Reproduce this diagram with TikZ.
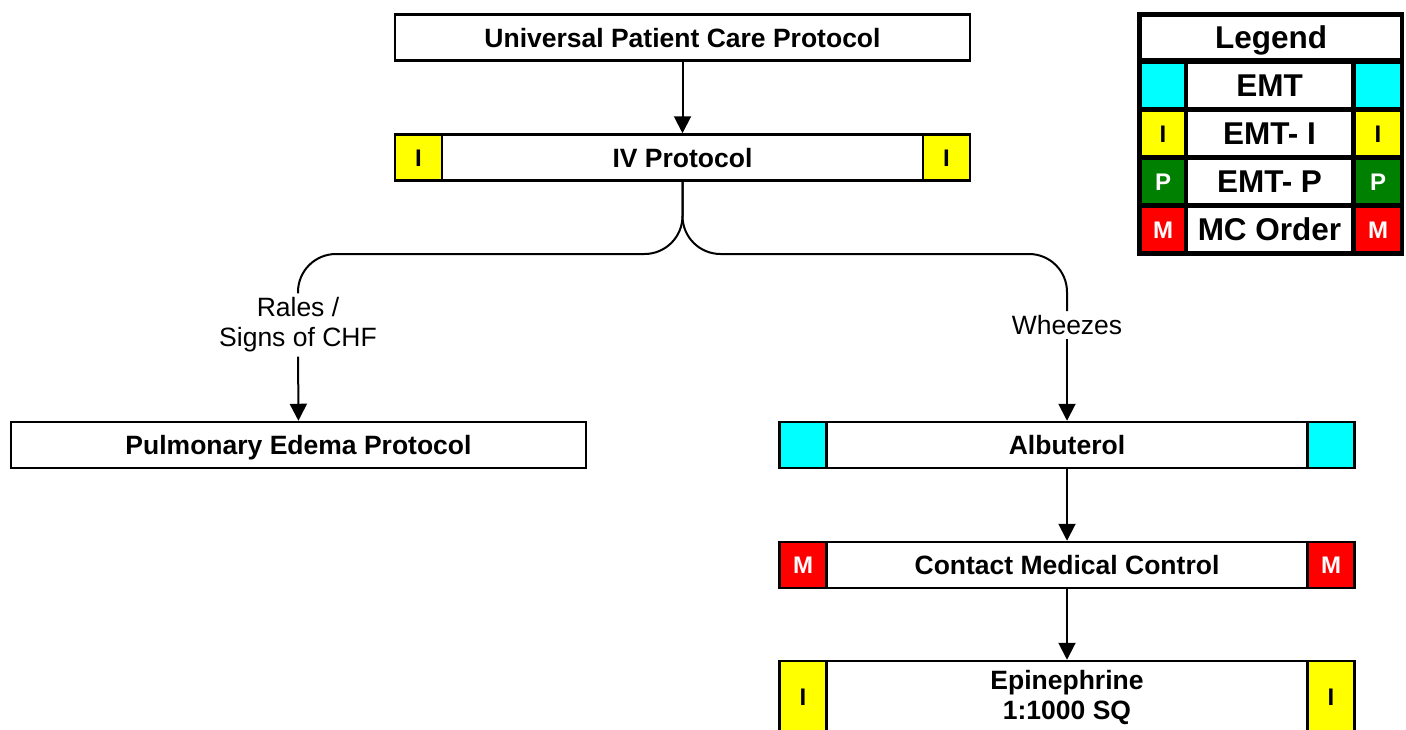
\documentclass[tikz,border=0pt]{standalone}
\usepackage{fontspec}
\setmainfont{Liberation Sans}
\usetikzlibrary{arrows.meta}
\definecolor{cyanc}{RGB}{0,255,255}
\definecolor{yellowc}{RGB}{255,255,0}
\definecolor{greenc}{RGB}{0,128,0}
\definecolor{redc}{RGB}{255,0,0}
\begin{document}
\begin{tikzpicture}[x=1pt,y=-1pt,
  box/.style={draw, line width=2.5pt, fill=white, minimum width=575pt, minimum height=46pt, inner sep=0pt, font=\fontsize{26.5}{30}\selectfont\bfseries, align=center},
  capc/.style={text height=19pt, text depth=0pt},
  tag/.style={draw, line width=2.5pt, minimum width=47pt, minimum height=46pt, inner sep=0pt, text height=17pt, text depth=0pt, font=\fontsize{24}{26}\selectfont\bfseries},
  lbl/.style={font=\fontsize{26.5}{30}\selectfont, align=center, inner sep=4pt},
  conn/.style={line width=2pt},
  arr/.style={conn, -{Triangle[width=17pt,length=17pt]}},
  cell/.style={fill=white, inner sep=0pt, minimum height=43pt, text height=22.5pt, text depth=0pt, font=\fontsize{31.5}{34}\selectfont\bfseries},
  lt/.style={inner sep=0pt, minimum width=43pt, minimum height=43pt, text height=17pt, text depth=0pt, font=\fontsize{24}{26}\selectfont\bfseries},
]
\useasboundingbox (0,0) rectangle (1406,729);
\clip (0,0) rectangle (1406,729);

% main flow
\node[box, capc] (upc) at (682.5,37.5) {Universal Patient Care Protocol};
\node[box, capc] (iv) at (682.5,157.5) {IV Protocol};
\node[tag, fill=yellowc, anchor=west] (ivl) at (iv.west) {I};
\node[tag, fill=yellowc, anchor=east] (ivr) at (iv.east) {I};

\node[box, capc] (pe) at (298.5,445) {Pulmonary Edema Protocol};

\node[box, capc] (alb) at (1067,445) {Albuterol};
\node[tag, fill=cyanc, anchor=west] (albl) at (alb.west) {};
\node[tag, fill=cyanc, anchor=east] (albr) at (alb.east) {};

\node[box, capc] (cmc) at (1067,565) {Contact Medical Control};
\node[tag, fill=redc, text=white, anchor=west] (cmcl) at (cmc.west) {M};
\node[tag, fill=redc, text=white, anchor=east] (cmcr) at (cmc.east) {M};

\node[box, minimum height=72pt] (epi) at (1067,697) {Epinephrine\\1:1000 SQ};
\node[tag, fill=yellowc, minimum height=72pt, anchor=west] (epil) at (epi.west) {I};
\node[tag, fill=yellowc, minimum height=72pt, anchor=east] (epir) at (epi.east) {I};

\node[lbl] (rales) at (298,325) {Rales /\\Signs of CHF};
\node[lbl] (wh) at (1067,325) {Wheezes};
\coordinate (j) at (682.5,254);

\draw[arr] (upc) -- (iv);
\draw[conn, rounded corners=38pt] (iv.south) -- (j) -| (rales.north);
\draw[conn, rounded corners=38pt] (iv.south) -- (j) -| (wh.north);
\draw[arr] (rales) -- (pe);
\draw[arr] (wh) -- (alb);
\draw[arr] (alb) -- (cmc);
\draw[arr] (cmc) -- (epi);

% legend
\node[fill=black, inner sep=0pt, minimum width=267pt, minimum height=244pt] (legbg) at (1270.5,134) {};
\node[cell, minimum width=258pt, minimum height=41pt] (legt) at (1271,37.5) {Legend};
\node[lt, fill=cyanc, minimum width=42pt] (l1a) at (1163,85) {};
\node[cell, minimum width=163pt] (l1b) at (1269.5,85) {EMT};
\node[lt, fill=cyanc, minimum width=44pt] (l1c) at (1378,85) {};
\node[lt, fill=yellowc, minimum width=42pt] (l2a) at (1163,133.5) {I};
\node[cell, minimum width=163pt] (l2b) at (1269.5,133.5) {EMT- I};
\node[lt, fill=yellowc, minimum width=44pt] (l2c) at (1378,133.5) {I};
\node[lt, fill=greenc, text=white, minimum width=42pt] (l3a) at (1163,181.5) {P};
\node[cell, minimum width=163pt] (l3b) at (1269.5,181.5) {EMT- P};
\node[lt, fill=greenc, text=white, minimum width=44pt] (l3c) at (1378,181.5) {P};
\node[lt, fill=redc, text=white, minimum width=42pt] (l4a) at (1163,229.5) {M};
\node[cell, minimum width=163pt] (l4b) at (1269.5,229.5) {MC Order};
\node[lt, fill=redc, text=white, minimum width=44pt] (l4c) at (1378,229.5) {M};
\end{tikzpicture}
\end{document}
